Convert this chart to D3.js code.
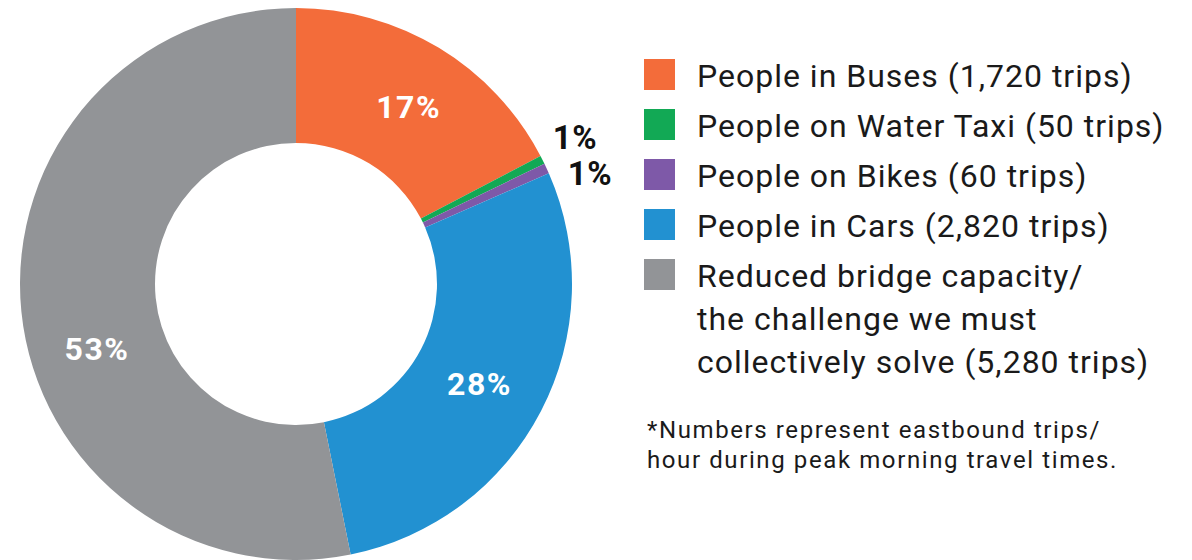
<html>
<head>
<script src="https://d3js.org/d3.v7.min.js"></script>
<style>
  body { margin: 0; background: #fff; }
  text { font-family: Roboto, "Noto Sans", sans-serif; }
</style>
</head>
<body>
<svg id="chart" width="1192" height="560"></svg>
<script>
var names = ["People in Buses (1,720 trips)", "People on Water Taxi (50 trips)", "People on Bikes (60 trips)",
             "People in Cars (2,820 trips)", "Reduced bridge capacity/|the challenge we must|collectively solve (5,280 trips)"];
var trips = [1720, 50, 60, 2820, 5280];
var pctLabels = ["17%", "1%", "1%", "28%", "53%"];
var colors = ["#f36c3a", "#12a955", "#7e59a8", "#2291d1", "#929497"];
var note = ["*Numbers represent eastbound trips/", "hour during peak morning travel times."];

var svg = d3.select("#chart");
var cx = 296, cy = 284, outerR = 276, innerR = 141;

var pie = d3.pie().sort(null).value(function(d) { return d; });
var arc = d3.arc().innerRadius(innerR).outerRadius(outerR);
var arcs = pie(trips);

var g = svg.append("g").attr("transform", "translate(" + cx + "," + cy + ")");
g.selectAll("path").data(arcs).enter().append("path")
    .attr("d", arc)
    .attr("fill", function(d, i) { return colors[i]; });

// big labels inside slices (nudged to where the original sits them)
var labelArc = d3.arc().innerRadius(208).outerRadius(208);
var inside = [0, 3, 4];
var offsets = {0: [5, 0], 3: [-1, 4], 4: [8, 44]};
inside.forEach(function(i) {
    var c = labelArc.centroid(arcs[i]);
    g.append("text")
        .attr("x", c[0] + offsets[i][0]).attr("y", c[1] + offsets[i][1] + 11.5)
        .attr("text-anchor", "middle")
        .attr("fill", "#fff").attr("font-weight", "bold").attr("font-size", 32)
        .attr("letter-spacing", 1.5)
        .text(pctLabels[i]);
});

// small slices labelled outside
var outPos = [[1, 279, -147], [2, 294, -111]];
outPos.forEach(function(p) {
    g.append("text")
        .attr("x", p[1]).attr("y", p[2] + 12)
        .attr("text-anchor", "middle")
        .attr("fill", "#111").attr("font-weight", "bold").attr("font-size", 33)
        .attr("letter-spacing", 0.5)
        .text(pctLabels[p[0]]);
});

// legend
var legY = [74, 124, 174, 224, 274];
var leg = svg.append("g");
names.forEach(function(n, i) {
    leg.append("rect")
        .attr("x", 644).attr("y", legY[i] - 15).attr("width", 31).attr("height", 31)
        .attr("fill", colors[i]);
    n.split("|").forEach(function(line, j) {
        leg.append("text")
            .attr("x", 697).attr("y", legY[i] + 13 + j * 43)
            .attr("font-size", 32).attr("fill", "#1a1a1a")
            .attr("letter-spacing", 1)
            .text(line);
    });
});

note.forEach(function(line, j) {
    svg.append("text")
        .attr("x", 647).attr("y", 438 + j * 30)
        .attr("font-size", 24).attr("fill", "#1a1a1a")
        .attr("letter-spacing", 1.6)
        .text(line);
});
</script>
</body>
</html>
